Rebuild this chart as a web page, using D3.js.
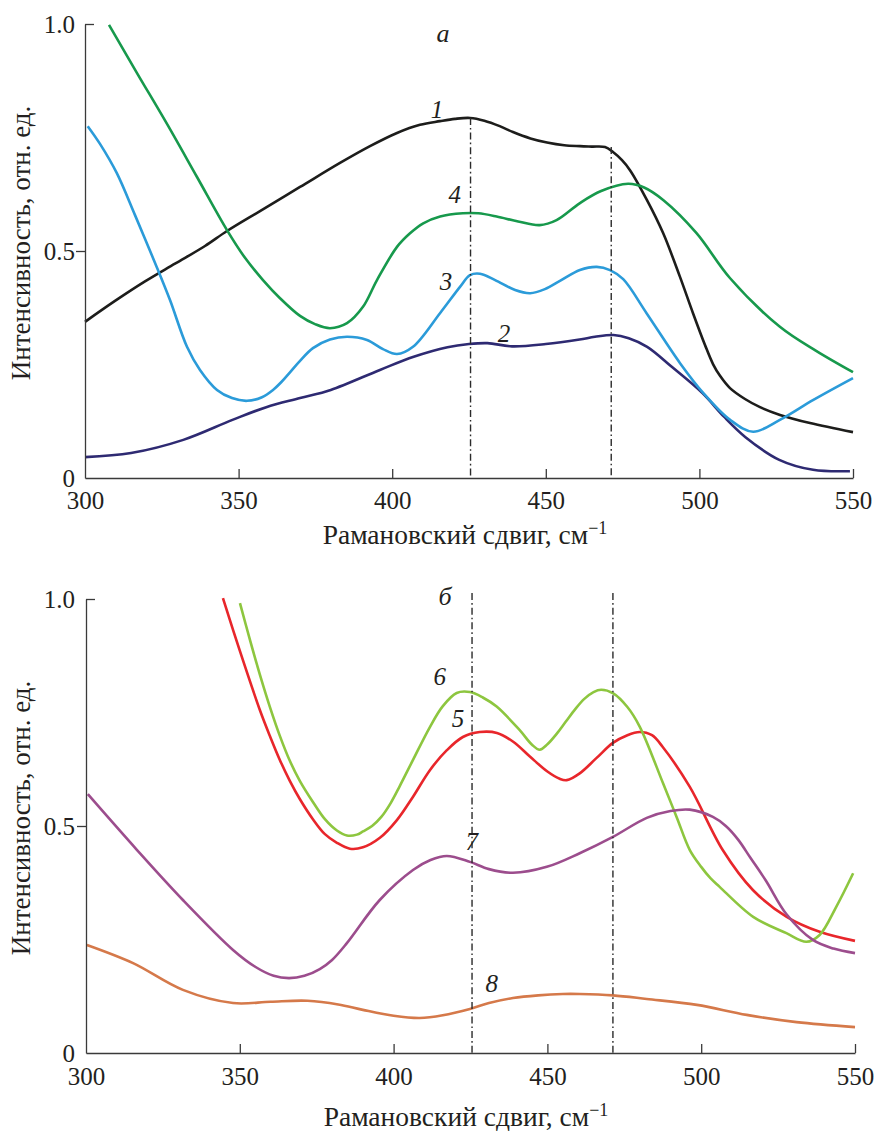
<!DOCTYPE html>
<html>
<head>
<meta charset="utf-8">
<script src="https://cdn.jsdelivr.net/npm/d3@7"></script>
<style>
  html, body { margin: 0; padding: 0; background: #fff; }
  svg { display: block; }
  text { font-family: "Liberation Serif", "DejaVu Serif", "Noto Serif", "Times New Roman", serif; fill: #231f20; }
</style>
</head>
<body>
<svg id="chart" width="877" height="1131"></svg>
<script>
// ---------- data ----------
const xTicks = [300, 350, 400, 450, 500, 550];
const yTicks = [0, 0.5, 1.0];
const yTickLabels = ["0", "0.5", "1.0"];
const xTitle = "Рамановский сдвиг, см";
const xTitleSup = "−1";
const yTitle = "Интенсивность, отн. ед.";
const panelLetters = ["а", "б"];
const markerX = [425.5, 471.3];
const markerTopA = [0.793, 0.729];
const markerTopB = [1.013, 1.013];

// panel a
const curve1 = [[300,0.344],[309.77,0.390],[319.53,0.433],[329.3,0.472],[339.06,0.511],[346.22,0.544],[356.97,0.588],[369.99,0.641],[383.01,0.694],[392.77,0.731],[401.56,0.760],[409.05,0.778],[415.56,0.786],[420.44,0.791],[425.33,0.793],[430,0.787],[435,0.775],[439.3,0.762],[445,0.748],[450.4,0.739],[456,0.733],[461.13,0.731],[465,0.730],[469.27,0.729],[471.88,0.718],[474.8,0.700],[477.41,0.678],[482.94,0.612],[488.15,0.540],[493.68,0.443],[497.92,0.363],[501.82,0.293],[504.43,0.251],[506.71,0.225],[509.96,0.198],[514.84,0.174],[519.73,0.156],[526.24,0.139],[536,0.121],[550,0.101]];
const curve2 = [[300,0.046],[315,0.055],[332,0.084],[348,0.128],[359,0.156],[370,0.176],[380,0.194],[396,0.238],[407,0.267],[418,0.288],[425,0.295],[431,0.297],[439,0.290],[450,0.295],[461,0.305],[466,0.311],[472,0.315],[477,0.308],[483,0.289],[491,0.245],[501,0.187],[508,0.135],[515,0.090],[526,0.040],[537,0.018],[549,0.015]];
const curve3 = [[300.88,0.775],[304.88,0.736],[310.32,0.672],[316.28,0.579],[323.34,0.465],[327.67,0.392],[333.2,0.289],[337.43,0.238],[342.97,0.194],[347.85,0.176],[352.73,0.170],[357.6,0.178],[361.2,0.194],[364,0.212],[367,0.235],[370,0.258],[374.2,0.286],[379.75,0.305],[385.29,0.311],[391.8,0.304],[397,0.284],[401.56,0.273],[406.77,0.289],[415.56,0.363],[422.07,0.421],[425.33,0.447],[428.6,0.450],[433.5,0.436],[440,0.414],[444.9,0.407],[449.7,0.416],[454.6,0.434],[461.1,0.458],[466.6,0.465],[470.9,0.458],[475.2,0.438],[482.8,0.363],[493.7,0.253],[501.3,0.187],[510,0.128],[517.5,0.102],[526.2,0.128],[537.1,0.172],[550,0.220]];
const curve4 = [[307.81,0.998],[316.93,0.892],[326.6,0.781],[336.46,0.663],[346.22,0.546],[352.08,0.485],[357.94,0.436],[363.48,0.396],[369.99,0.357],[374.87,0.339],[379.75,0.330],[385.29,0.341],[390.49,0.377],[395.05,0.436],[401.56,0.509],[405.8,0.539],[410.1,0.561],[415.6,0.576],[423,0.583],[428,0.583],[434,0.576],[441,0.565],[448,0.557],[453.5,0.568],[461,0.605],[468,0.632],[476.8,0.648],[482,0.64],[488.3,0.612],[499,0.540],[510,0.440],[526.2,0.333],[538,0.28],[550,0.233]];

// panel b
const curve5 = [[344.52,1.002],[350.05,0.885],[356.55,0.755],[359.8,0.698],[363.05,0.645],[366.3,0.599],[369.55,0.559],[373.77,0.515],[377.67,0.482],[381.57,0.463],[385.8,0.450],[390.02,0.453],[395.55,0.474],[401.07,0.513],[406.27,0.564],[411.8,0.623],[417.32,0.667],[422.52,0.696],[428,0.707],[433.6,0.705],[439,0.685],[444.3,0.653],[450,0.620],[454,0.604],[456.3,0.601],[460.5,0.616],[466,0.65],[471.3,0.683],[476,0.70],[480,0.707],[484,0.70],[487.5,0.674],[496.3,0.586],[507,0.447],[516.8,0.359],[527.8,0.300],[538.5,0.267],[550,0.247]];
const curve6 = [[350.05,0.991],[353.3,0.910],[356.55,0.833],[359.8,0.762],[363.05,0.698],[366.3,0.643],[369.55,0.599],[373.77,0.553],[377.67,0.515],[381.57,0.490],[384.82,0.479],[388.07,0.481],[390.02,0.488],[393,0.500],[396,0.520],[399,0.550],[402,0.588],[406.27,0.645],[411.8,0.718],[416,0.764],[420.5,0.793],[424.8,0.795],[429,0.783],[433.5,0.763],[441,0.711],[445,0.679],[447.5,0.668],[450,0.680],[453,0.703],[456,0.730],[459,0.757],[462,0.780],[465,0.795],[467.5,0.800],[471.4,0.792],[476,0.762],[480,0.719],[487.6,0.594],[492,0.52],[496.3,0.447],[500,0.41],[503,0.385],[506,0.366],[516.9,0.300],[527.7,0.264],[534.2,0.245],[538.5,0.260],[543.9,0.322],[549.4,0.396]];
const curve7 = [[300.6,0.570],[316.6,0.447],[331.5,0.337],[347.8,0.227],[355,0.19],[361,0.17],[366,0.165],[371,0.17],[376,0.185],[380,0.205],[384.8,0.242],[395.5,0.337],[406.3,0.403],[412,0.425],[417.3,0.434],[424.8,0.421],[431,0.405],[438.8,0.397],[449.8,0.41],[460.5,0.44],[471.3,0.476],[482.3,0.518],[490,0.533],[496.3,0.536],[503.8,0.52],[508,0.50],[512,0.47],[516,0.43],[521,0.38],[527.8,0.305],[536.3,0.249],[543,0.23],[550,0.220]];
const curve8 = [[300.3,0.238],[315.3,0.198],[331.5,0.139],[347.8,0.110],[360,0.113],[372,0.115],[382,0.107],[390,0.095],[400,0.082],[408.5,0.077],[416,0.083],[424.8,0.097],[431,0.11],[438.8,0.121],[447,0.127],[455,0.130],[460.5,0.130],[471.3,0.127],[482.3,0.119],[498.6,0.106],[514.8,0.084],[531,0.068],[550,0.057]];

const curvesA = [
  {name: "1", data: curve1, color: "#1d1d1b"},
  {name: "2", data: curve2, color: "#2e2a72"},
  {name: "3", data: curve3, color: "#2b9bd9"},
  {name: "4", data: curve4, color: "#17994c"}
];
const curvesB = [
  {name: "5", data: curve5, color: "#e8262b"},
  {name: "6", data: curve6, color: "#8dc63f"},
  {name: "7", data: curve7, color: "#9c4d8d"},
  {name: "8", data: curve8, color: "#d5794a"}
];

// curve label anchors: [label, x value, y value]
const labelsA = [["1", 414.6, 0.793], ["4", 420.4, 0.606], ["3", 417.5, 0.414], ["2", 436.4, 0.300]];
const labelsB = [["6", 415.0, 0.811], ["5", 420.9, 0.718], ["7", 425.4, 0.447], ["8", 431.9, 0.134]];

// ---------- drawing ----------
const svg = d3.select("#chart");
const serif = '"Liberation Serif", "DejaVu Serif", "Noto Serif", "Times New Roman", serif';

function drawPanel(cfg) {
  const x = d3.scaleLinear().domain([300, 550]).range([cfg.x0, cfg.x1]);
  const y = d3.scaleLinear().domain([0, 1]).range([cfg.y0, cfg.y1]);
  const g = svg.append("g");

  // curves
  const line = d3.line().x(d => x(d[0])).y(d => y(d[1])).curve(d3.curveCatmullRom.alpha(0.5));
  g.selectAll("path.curve").data(cfg.curves).enter().append("path")
    .attr("class", "curve")
    .attr("d", d => line(d.data))
    .attr("fill", "none")
    .attr("stroke", d => d.color)
    .attr("stroke-width", 2.6)
    .attr("stroke-linejoin", "round");

  // dash-dot markers
  g.selectAll("line.marker").data(cfg.markerX).enter().append("line")
    .attr("class", "marker")
    .attr("x1", d => x(d)).attr("x2", d => x(d))
    .attr("y1", (d, i) => y(cfg.markerTop[i])).attr("y2", y(0))
    .attr("stroke", "#2b2b2b").attr("stroke-width", 1.4)
    .attr("stroke-dasharray", "7,3,1.6,3");

  // x axis
  const xa = g.append("g").attr("transform", `translate(0,${cfg.y0})`)
    .call(d3.axisBottom(x).tickValues(xTicks).tickFormat(d3.format("d"))
      .tickSizeInner(-9).tickSizeOuter(0).tickPadding(cfg.xPad));
  xa.selectAll(".tick line").filter(d => d === 300).remove();
  // y axis
  const ya = g.append("g").attr("transform", `translate(${cfg.x0},0)`)
    .call(d3.axisLeft(y).tickValues(yTicks).tickFormat((d, i) => yTickLabels[i])
      .tickSizeInner(0).tickSizeOuter(0).tickPadding(cfg.yPad));
  ya.selectAll(".tick line")
    .attr("x2", d => d === 1 ? 9 : (d === 0.5 ? -9 : 0));
  [xa, ya].forEach(a => {
    a.attr("font-family", serif);
    a.select(".domain").attr("stroke", "#3a3a3a").attr("stroke-width", 1.3);
    a.selectAll(".tick line").attr("stroke", "#3a3a3a").attr("stroke-width", 1.3);
    a.selectAll(".tick text").attr("font-size", 25).attr("fill", "#231f20");
  });

  // x title
  const xt = g.append("text")
    .attr("x", cfg.xTitleX).attr("y", cfg.xTitleY)
    .attr("text-anchor", "middle").attr("font-size", 27.5);
  xt.append("tspan").text(xTitle);
  xt.append("tspan").attr("dy", -10).attr("font-size", 18).text(xTitleSup);

  // y title
  g.append("text")
    .attr("transform", `translate(30,${cfg.yTitleY}) rotate(-90)`)
    .attr("text-anchor", "middle").attr("font-size", 27)
    .text(yTitle);

  // panel letter
  g.append("text").attr("x", cfg.letterX).attr("y", cfg.letterY)
    .attr("text-anchor", "middle").attr("font-size", 26).attr("font-style", "italic")
    .text(cfg.letter);

  // curve labels
  g.selectAll("text.clabel").data(cfg.labels).enter().append("text")
    .attr("class", "clabel")
    .attr("x", d => x(d[1])).attr("y", d => y(d[2]))
    .attr("text-anchor", "middle").attr("font-size", 25).attr("font-style", "italic")
    .text(d => d[0]);
}

drawPanel({x0: 85, x1: 853, y0: 478, y1: 24, curves: curvesA, markerX: markerX, markerTop: markerTopA,
  xPad: 13, yPad: 10, xTitleX: 465, xTitleY: 544, yTitleY: 243, letter: panelLetters[0], letterX: 443, letterY: 42, labels: labelsA});
drawPanel({x0: 86, x1: 855, y0: 1053, y1: 599, curves: curvesB, markerX: markerX, markerTop: markerTopB,
  xPad: 14, yPad: 11, xTitleX: 466, xTitleY: 1126, yTitleY: 818, letter: panelLetters[1], letterX: 445, letterY: 605, labels: labelsB});
</script>
</body>
</html>
